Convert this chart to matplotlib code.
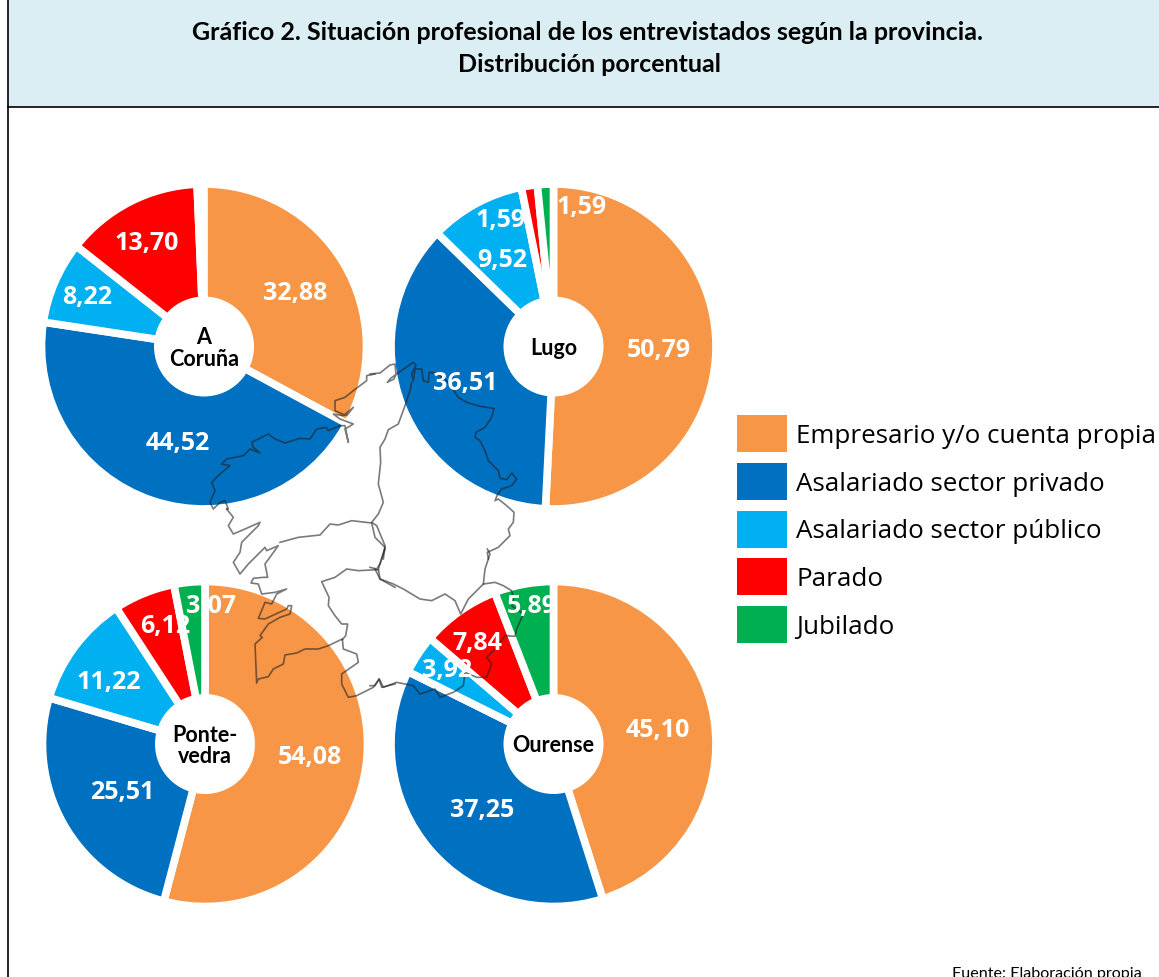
import matplotlib
matplotlib.use("Agg")
import matplotlib.pyplot as plt
import numpy as np
from matplotlib.patches import Patch, Rectangle, Circle

# datos
categorias = ["Empresario y/o cuenta propia", "Asalariado sector privado",
              "Asalariado sector público", "Parado", "Jubilado"]
colores = ["#F79646", "#0070C0", "#00B0F0", "#FF0000", "#00B050"]

provincias = ["A\nCoruña", "Lugo", "Ponte-\nvedra", "Ourense"]
a_coruna = [32.88, 44.52, 8.22, 13.70, 0]
lugo = [50.79, 36.51, 9.52, 1.59, 1.59]
pontevedra = [54.08, 25.51, 11.22, 6.12, 3.07]
ourense = [45.10, 37.25, 3.92, 7.84, 5.89]
valores = [a_coruna, lugo, pontevedra, ourense]

# posiciones en pixeles de la imagen
H = 978
centros = [(204, 347.5), (553.5, 347.5), (205, 745), (553.5, 745)]
pos_etiquetas = [
    [(295, 294), (178, 444), (87, 298), (147, 244), None],
    [(659, 351), (465, 384), (502, 261), (501, 221), (582, 208)],
    [(310, 758), (122, 793), (109, 683), (165, 627), (211, 607)],
    [(658, 731), (482, 811), (447, 671), (477, 644), (532, 607)],
]


def zoom_a_pagina(ox, oy, puntos):
    # los puntos se leyeron de recortes con origen (ox, oy) y escala 3
    return [(ox + p[0] / 3, oy + p[1] / 3) for p in puntos]


# contorno de Galicia y limites provinciales
mapa = [
    # costa norte y limite con Asturias
    zoom_a_pagina(370, 360, [(0, 45), (30, 42), (60, 18), (75, 15), (78, 45), (72, 60), (52, 70), (62, 58), (80, 45),
                             (130, 10), (138, 18), (125, 45), (130, 65), (135, 30), (155, 30), (160, 65), (175, 70),
                             (178, 40), (195, 42), (225, 60), (245, 85), (265, 115), (290, 130), (330, 142), (372, 148),
                             (365, 175), (345, 205), (318, 220), (315, 235), (330, 245), (345, 275), (355, 305),
                             (385, 335), (390, 358), (410, 362), (425, 342), (440, 360), (425, 380), (395, 390),
                             (382, 408), (375, 425), (385, 420), (410, 440), (432, 460), (430, 490), (415, 510),
                             (420, 530), (385, 565), (352, 580), (355, 600)]),
    # Lugo - A Coruña
    zoom_a_pagina(370, 360, [(125, 70), (120, 95), (105, 140), (85, 195), (55, 212), (45, 240), (30, 265), (32, 310),
                             (25, 375), (40, 430), (25, 465), (5, 490), (20, 500), (45, 560), (40, 600)]),
    # este y sur de Ourense
    zoom_a_pagina(370, 550, [(352, 0), (360, 15), (345, 60), (340, 105), (375, 100), (400, 110), (425, 125), (430, 150),
                             (425, 170), (460, 195), (440, 240), (435, 262), (405, 260), (380, 295), (350, 325),
                             (365, 345), (350, 385), (320, 385), (285, 370), (280, 410), (250, 430), (210, 445),
                             (195, 420), (150, 435), (130, 410), (80, 400), (40, 415), (28, 390), (15, 410), (0, 410)]),
    # Lugo - Ourense
    zoom_a_pagina(370, 550, [(45, 0), (30, 45), (20, 60), (0, 55)]),
    zoom_a_pagina(370, 550, [(15, 60), (30, 90), (70, 105), (100, 120), (150, 150), (185, 155), (225, 135), (255, 155),
                             (272, 195), (295, 150), (340, 105)]),
    # costa oeste y Portugal
    zoom_a_pagina(225, 510, [(510, 525), (470, 535), (462, 510), (445, 535), (395, 560), (370, 565), (350, 525),
                             (350, 495), (400, 460), (395, 435), (355, 420), (352, 390), (310, 410), (280, 420),
                             (240, 420), (215, 432), (180, 438), (175, 465), (145, 480), (130, 503), (100, 510),
                             (95, 522), (90, 405), (112, 385), (105, 380), (130, 345), (165, 325), (195, 315),
                             (200, 290), (190, 290), (185, 300), (120, 330), (100, 328), (112, 300), (120, 280),
                             (140, 285), (155, 255), (185, 240), (150, 250), (110, 255), (100, 225), (78, 222),
                             (85, 208), (115, 205), (128, 205), (120, 165), (160, 110), (125, 125), (120, 115),
                             (105, 130), (70, 165), (45, 195), (25, 160), (45, 130), (50, 100), (100, 50), (105, 40),
                             (60, 60), (25, 75), (10, 50), (25, 25), (5, 0)]),
    # costa de A Coruña
    zoom_a_pagina(205, 360, [(66, 450), (70, 450), (60, 425), (45, 430), (25, 450), (15, 430), (30, 395), (20, 370),
                             (45, 345), (75, 320), (50, 315), (65, 300), (115, 290), (135, 270), (165, 282), (145, 265),
                             (140, 250), (170, 235), (190, 225), (210, 240), (240, 252), (285, 238), (315, 240),
                             (335, 210), (365, 205), (370, 215), (405, 200), (420, 200), (430, 250), (420, 210),
                             (445, 195), (405, 180), (385, 165), (415, 170), (445, 145), (425, 170), (390, 155),
                             (390, 125), (420, 115), (445, 95), (485, 65), (485, 50), (510, 45)]),
    # Pontevedra - A Coruña y Lugo
    zoom_a_pagina(225, 510, [(165, 100), (220, 85), (285, 78), (315, 45), (340, 48), (380, 35), (440, 42), (450, 85),
                             (480, 115), (460, 180), (465, 210), (510, 235)]),
    # Pontevedra - Ourense
    zoom_a_pagina(225, 510, [(460, 182), (400, 185), (365, 180), (330, 205), (290, 218), (312, 265), (310, 290),
                             (330, 320), (350, 345), (368, 345), (362, 380), (352, 392)]),
]

plt.rcParams['font.family'] = ['Lato', 'DejaVu Sans']

fig = plt.figure(figsize=(11.59, 9.78), dpi=100)
ax = fig.add_axes([0, 0, 1, 1])

# pies: A Coruña no llega al 100 %, por eso no se normaliza
for vals, centro in zip(valores, centros):
    fracciones = np.array(vals) / max(100, sum(vals))
    ax.pie(fracciones, colors=colores, startangle=90, counterclock=False, radius=162.5, normalize=False,
           center=(centro[0], H - centro[1]), frame=True,
           wedgeprops=dict(edgecolor="white", linewidth=5.5))
    ax.add_patch(Circle((centro[0], H - centro[1]), 50, fc="white", ec="none", zorder=3))

ax.set_xlim(0, 1159)
ax.set_ylim(0, H)
ax.set_aspect("auto")
ax.axis("off")

# mapa
for linea in mapa:
    ax.plot([p[0] for p in linea], [H - p[1] for p in linea], color="#222222", alpha=0.6, lw=1.2, zorder=4)

# etiquetas
for vals, posiciones in zip(valores, pos_etiquetas):
    for v, p in zip(vals, posiciones):
        if p is not None:
            ax.text(p[0], H - p[1], f"{v:.2f}".replace(".", ","), color="white", fontsize=18,
                    fontweight="bold", family=["Open Sans", "DejaVu Sans"],
                    ha="center", va="center", zorder=5)

for nombre, centro in zip(provincias, centros):
    ax.text(centro[0], H - centro[1] - 1, nombre, color="black", fontsize=15.5, fontweight="bold",
            ha="center", va="center", linespacing=1.05, zorder=5)

# leyenda
handles = [Patch(facecolor=c, edgecolor="none", label=n) for c, n in zip(colores, categorias)]
ax.legend(handles=handles, loc="upper left", bbox_to_anchor=(737 / 1159, 1 - 416 / H), frameon=False,
          prop=dict(family="Open Sans", size=18.7), borderaxespad=0, borderpad=0, handlelength=1.93,
          handleheight=1.81, labelspacing=0.42, handletextpad=0.35)

# cabecera y marco
ax.add_patch(Rectangle((8, H - 108), 1151, 108, fc="#DAEEF3", ec="none", zorder=0))
ax.plot([8, 8], [0, H], color="black", lw=1.2, zorder=6)
ax.plot([8, 1159], [H - 108, H - 108], color="black", lw=1.2, zorder=6)
ax.text(588, H - 33, "Gráfico 2. Situación profesional de los entrevistados según la provincia.",
        fontsize=18, fontweight="bold", ha="center", va="center")
ax.text(589, H - 65, "Distribución porcentual", fontsize=18, fontweight="bold", ha="center", va="center")
ax.text(1142, H - 974, "Fuente: Elaboración propia", fontsize=11.6, ha="right", va="center")

fig.savefig("out.png", dpi=100)
